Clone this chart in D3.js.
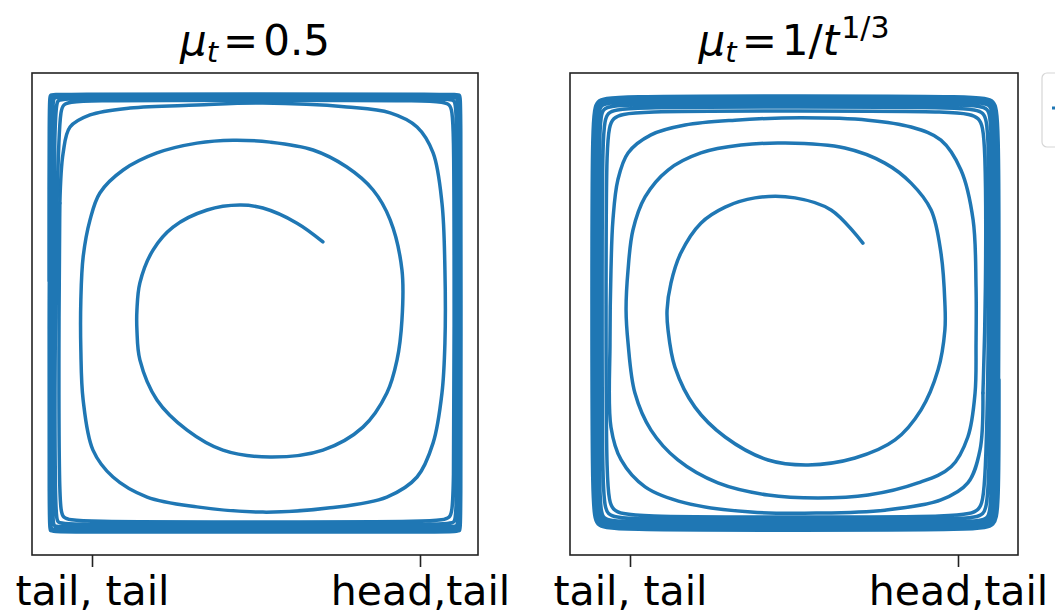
<!DOCTYPE html>
<html>
<head>
<meta charset="utf-8">
<script src="https://cdn.jsdelivr.net/npm/d3@7"></script>
<style>
  html, body { margin: 0; padding: 0; background: #fff; }
  svg { display: block; }
  text { font-family: "DejaVu Sans", sans-serif; fill: #000; }
</style>
</head>
<body>
<svg id="chart" width="1055" height="614"></svg>
<script>
// Strategy trajectories (x: player-1 position, y: player-2 position)
const tickValues = [0, 1];
const tickLabels = ["tail, tail", "head,tail"];

// Constant step size mu_t = 0.5 : opening turns of the spiral
const spiralConstant = [
  [0.704,0.720],[0.625,0.777],[0.521,0.823],[0.451,0.832],[0.351,0.817],[0.247,0.765],[0.186,0.695],
  [0.146,0.595],[0.137,0.512],[0.137,0.451],[0.146,0.360],[0.198,0.238],[0.290,0.146],[0.399,0.085],
  [0.543,0.064],[0.704,0.085],[0.826,0.155],[0.899,0.259],[0.930,0.360],[0.945,0.482],[0.945,0.634],
  [0.909,0.787],[0.857,0.878],[0.777,0.948],[0.674,1.000],[0.543,1.024],[0.430,1.030],[0.320,1.021],
  [0.198,0.991],[0.095,0.939],[0.024,0.869],[-0.006,0.787],[-0.027,0.674],[-0.034,0.543],[-0.034,0.390],
  [-0.027,0.238],[0.003,0.085],[0.064,0.003],[0.168,-0.058],[0.320,-0.088],[0.521,-0.104],[0.726,-0.091],
  [0.899,-0.058],[0.991,0.003],[1.040,0.107],[1.067,0.259],[1.076,0.412],[1.076,0.634],[1.067,0.838],
  [1.040,0.991],[0.991,1.070],[0.909,1.113],[0.777,1.131],[0.521,1.143],[0.320,1.137],[0.116,1.128],
  [-0.006,1.107],[-0.067,1.070],[-0.088,0.991],[-0.098,0.838]
];
// ... and the late orbits hugging the edges of the square
const bandConstant = [
  [-0.098,0.838],
  [-0.101,0.543],[-0.101,-0.091],[-0.089,-0.122],[-0.058,-0.134],[0.506,-0.134],[1.061,-0.134],
  [1.092,-0.122],[1.104,-0.091],[1.104,0.543],[1.104,1.109],[1.092,1.140],[1.061,1.152],[0.506,1.152],
  [-0.058,1.152],[-0.089,1.140],[-0.101,1.109],
  [-0.113,0.543],[-0.113,-0.116],[-0.105,-0.135],[-0.086,-0.143],[0.506,-0.143],[1.086,-0.143],
  [1.105,-0.135],[1.113,-0.116],[1.113,0.543],[1.113,1.132],[1.105,1.151],[1.086,1.159],[0.506,1.159],
  [-0.086,1.159],[-0.105,1.151],[-0.113,1.132],
  [-0.122,0.543],[-0.122,-0.131],[-0.116,-0.146],[-0.101,-0.152],[0.506,-0.152],[1.098,-0.152],
  [1.113,-0.146],[1.119,-0.131],[1.119,0.543],[1.119,1.144],[1.113,1.159],[1.098,1.165],[0.506,1.165],
  [-0.101,1.165],[-0.116,1.159],[-0.122,1.144],
  [-0.128,0.543],[-0.128,-0.144],[-0.124,-0.155],[-0.113,-0.159],[0.506,-0.159],[1.107,-0.159],
  [1.118,-0.155],[1.122,-0.144],[1.122,0.543],[1.122,1.153],[1.118,1.164],[1.107,1.168],[0.506,1.168],
  [-0.113,1.168],[-0.124,1.164],[-0.128,1.153],
  [-0.131,0.543],[-0.131,-0.153],[-0.127,-0.161],[-0.119,-0.165],[0.506,-0.165],[1.113,-0.165],
  [1.121,-0.161],[1.125,-0.153],[1.125,0.543],[1.125,1.159],[1.121,1.167],[1.113,1.171],[0.506,1.171],
  [-0.119,1.171],[-0.127,1.167],[-0.131,1.159],[-0.131,0.600]
];

// Decaying step size mu_t = 1/t^(1/3) : opening turns of the spiral
const spiralDecaying = [
  [0.710,0.716],[0.613,0.817],[0.503,0.854],[0.381,0.854],[0.290,0.826],[0.216,0.777],[0.155,0.686],
  [0.125,0.595],[0.113,0.512],[0.116,0.451],[0.137,0.338],[0.198,0.216],[0.290,0.125],[0.421,0.055],
  [0.543,0.040],[0.686,0.061],[0.808,0.116],[0.887,0.207],[0.939,0.329],[0.960,0.451],[0.960,0.534],
  [0.948,0.686],[0.918,0.817],[0.857,0.899],[0.777,0.960],[0.655,1.006],[0.473,1.021],[0.338,1.015],
  [0.216,0.991],[0.116,0.939],[0.046,0.857],[0.009,0.756],[-0.006,0.634],[-0.012,0.512],[-0.006,0.412],
  [0.015,0.259],[0.064,0.146],[0.146,0.055],[0.268,-0.015],[0.421,-0.052],[0.573,-0.061],[0.726,-0.052],
  [0.878,-0.015],[0.979,0.034],[1.030,0.125],[1.052,0.259],[1.055,0.412],[1.055,0.582],[1.046,0.787],
  [1.009,0.939],[0.948,1.030],[0.857,1.070],[0.726,1.091],[0.521,1.098],[0.320,1.091],[0.168,1.076],
  [0.064,1.046],[-0.006,0.991],[-0.037,0.909],[-0.052,0.787],[-0.058,0.634],[-0.061,0.412],[-0.058,0.155],
  [-0.027,0.055],[0.046,-0.027],[0.168,-0.076],[0.369,-0.104],[0.573,-0.107],[0.777,-0.098],[0.948,-0.067],
  [1.030,-0.015],[1.067,0.085],[1.076,0.259]
];
// ... and the late orbits piling up into a thick band
const bandDecaying = [
  [1.076,0.259],
  [1.085,0.543],[1.085,1.052],[1.066,1.100],[1.018,1.119],[0.518,1.119],[-0.006,1.119],[-0.054,1.100],
  [-0.073,1.052],[-0.073,0.543],[-0.073,-0.052],[-0.054,-0.100],[-0.006,-0.119],[0.518,-0.119],
  [1.018,-0.119],[1.066,-0.100],[1.085,-0.052],
  [1.095,0.543],[1.095,1.076],[1.079,1.115],[1.040,1.131],[0.518,1.131],[-0.030,1.131],[-0.069,1.115],
  [-0.085,1.076],[-0.085,0.543],[-0.085,-0.073],[-0.069,-0.112],[-0.030,-0.128],[0.518,-0.128],
  [1.040,-0.128],[1.079,-0.112],[1.095,-0.073],
  [1.104,0.543],[1.104,1.094],[1.091,1.127],[1.058,1.140],[0.518,1.140],[-0.049,1.140],[-0.082,1.127],
  [-0.095,1.094],[-0.095,0.543],[-0.095,-0.091],[-0.082,-0.124],[-0.049,-0.137],[0.518,-0.137],
  [1.058,-0.137],[1.091,-0.124],[1.104,-0.091],
  [1.110,0.543],[1.110,1.109],[1.098,1.137],[1.070,1.149],[0.518,1.149],[-0.061,1.149],[-0.089,1.137],
  [-0.101,1.109],[-0.101,0.543],[-0.101,-0.103],[-0.089,-0.131],[-0.061,-0.143],[0.518,-0.143],
  [1.070,-0.143],[1.098,-0.131],[1.110,-0.103],
  [1.116,0.543],[1.116,1.109],[1.103,1.142],[1.070,1.155],[0.518,1.155],[-0.061,1.155],[-0.094,1.142],
  [-0.107,1.109],[-0.107,0.543],[-0.107,-0.103],[-0.094,-0.136],[-0.061,-0.149],[0.518,-0.149],
  [1.070,-0.149],[1.103,-0.136],[1.116,-0.103],
  [1.122,0.543],[1.122,1.113],[1.108,1.148],[1.073,1.162],[0.518,1.162],[-0.064,1.162],[-0.099,1.148],
  [-0.113,1.113],[-0.113,0.543],[-0.113,-0.106],[-0.099,-0.141],[-0.064,-0.155],[0.518,-0.155],
  [1.073,-0.155],[1.108,-0.141],[1.122,-0.106],
  [1.125,0.543],[1.125,1.113],[1.110,1.150],[1.073,1.165],[0.518,1.165],[-0.064,1.165],[-0.101,1.150],
  [-0.116,1.113],[-0.116,0.543],[-0.116,-0.107],[-0.101,-0.144],[-0.064,-0.159],[0.518,-0.159],
  [1.073,-0.159],[1.110,-0.144],[1.125,-0.107],[1.125,0.300]
];

const panels = [
  { left: 32, width: 446, spiral: spiralConstant, band: bandConstant, title: "const" },
  { left: 570, width: 448, spiral: spiralDecaying, band: bandDecaying, title: "decay" }
];

const svg = d3.select("#chart");
const frameTop = 73, frameHeight = 482;
const lineColor = "#1f77b4";

panels.forEach(p => {
  const g = svg.append("g").attr("transform", `translate(${p.left},${frameTop})`);

  // 0 and 1 sit 60px inside each edge; 328px per unit on both axes
  const x = d3.scaleLinear().domain([0, 1]).range([60, 388]);
  const y = d3.scaleLinear().domain([0, 1]).range([405, 77]);

  // smooth interpolation through the spiral turns
  const spiralLine = d3.line()
    .x(d => x(d[0])).y(d => y(d[1]))
    .curve(d3.curveCatmullRom.alpha(0.5));
  // tight orbits along the edges: B-spline keeps the sides straight
  const bandLine = d3.line()
    .x(d => x(d[0])).y(d => y(d[1]))
    .curve(d3.curveBasis);

  [[p.spiral, spiralLine], [p.band, bandLine]].forEach(([data, gen]) => {
    g.append("path")
      .datum(data)
      .attr("d", gen)
      .attr("fill", "none")
      .attr("stroke", lineColor)
      .attr("stroke-width", 3.5)
      .attr("stroke-linejoin", "round")
      .attr("stroke-linecap", "round");
  });

  // frame
  g.append("rect")
    .attr("x", 0).attr("y", 0)
    .attr("width", p.width).attr("height", frameHeight)
    .attr("fill", "none")
    .attr("stroke", "#222")
    .attr("stroke-width", 1.6);

  const axis = d3.axisBottom(x)
    .tickValues(tickValues)
    .tickFormat((d, i) => tickLabels[i])
    .tickSize(12)
    .tickPadding(9);

  const ax = g.append("g")
    .attr("transform", `translate(0,${frameHeight})`)
    .call(axis);
  ax.select(".domain").remove();
  ax.selectAll(".tick line").attr("stroke", "#222").attr("stroke-width", 1.6);
  ax.selectAll(".tick text")
    .attr("font-size", 41)
    .attr("font-family", "DejaVu Sans")
    .attr("fill", "#000");

  // title: mu_t = ...
  const t = svg.append("text")
    .attr("x", p.left + p.width / 2)
    .attr("y", 55)
    .attr("text-anchor", "middle")
    .attr("font-size", 42);
  t.append("tspan").attr("font-style", "italic").text("μ");
  t.append("tspan").attr("font-style", "italic").attr("font-size", 29).attr("dy", 7).text("t");
  t.append("tspan").attr("dx", 5).attr("dy", -7).text("=");
  if (p.title === "const") {
    t.append("tspan").attr("dx", 5).text("0.5");
  } else {
    t.append("tspan").attr("dx", 5).text("1/");
    t.append("tspan").attr("font-style", "italic").text("t");
    t.append("tspan").attr("font-size", 30).attr("dx", 2).attr("dy", -17).text("1/3");
  }
});

// legend box, mostly outside the visible area on the right
const lg = svg.append("g").attr("transform", "translate(1042,73)");
lg.append("rect")
  .attr("width", 80).attr("height", 74).attr("rx", 5)
  .attr("fill", "#fff").attr("stroke", "#d6d6d6").attr("stroke-width", 1.2);
lg.append("line")
  .attr("x1", 10).attr("x2", 50).attr("y1", 35).attr("y2", 35)
  .attr("stroke", lineColor).attr("stroke-width", 3);
</script>
</body>
</html>
